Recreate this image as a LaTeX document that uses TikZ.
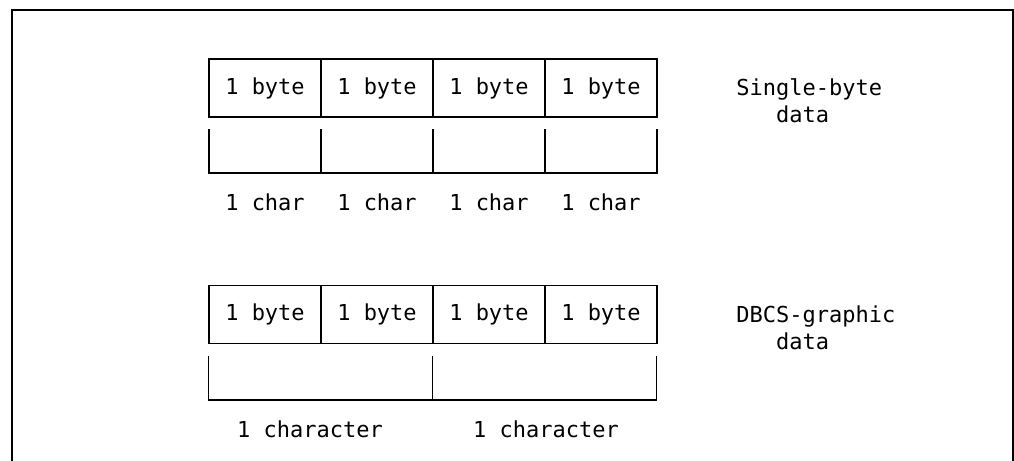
\documentclass[tikz,border=0pt]{standalone}
\usepackage{fontspec}
\usepackage{tikz}
\usetikzlibrary{positioning}
\newfontfamily\figmono{DejaVu Sans Mono}
\tikzset{
  cell/.style={
    draw=black,
    line width=0.7pt,
    minimum width=56pt,
    minimum height=29pt,
    inner sep=0pt,
    outer sep=0pt
  },
  slot/.style={minimum height=22pt, inner sep=0pt, outer sep=0pt},
  wideslot/.style={slot, minimum width=112pt},
  narrowslot/.style={slot, minimum width=56pt},
  bracket/.style={line width=0.7pt, draw=black},
  frameline/.style={line width=0.7pt, draw=black},
  charlabel/.style={anchor=base, inner sep=0pt},
  sidelabel/.style={anchor=base west, align=left, inner sep=0pt}
}

\begin{document}
\begin{tikzpicture}[x=0.5pt,y=-0.5pt,
  every node/.style={font=\figmono\fontsize{11}{13.5}\selectfont}]
  \useasboundingbox (0,0) rectangle (1014,461);

  % open frame
  \draw[frameline] (12,461) -- (12,10) -- (1013,10) -- (1013,461);

  % Single-byte data
  \node[cell] (sb1) at (265,88) {1 byte};
  \node[cell,right=0pt of sb1] (sb2) {1 byte};
  \node[cell,right=0pt of sb2] (sb3) {1 byte};
  \node[cell,right=0pt of sb3] (sb4) {1 byte};

  \node[narrowslot] (sc1) at (265,151) {};
  \node[narrowslot,right=0pt of sc1] (sc2) {};
  \node[narrowslot,right=0pt of sc2] (sc3) {};
  \node[narrowslot,right=0pt of sc3] (sc4) {};
  \draw[bracket] (sc1.north west) |- (sc1.south east) -- (sc1.north east);
  \draw[bracket] (sc2.north west) |- (sc2.south east) -- (sc2.north east);
  \draw[bracket] (sc3.north west) |- (sc3.south east) -- (sc3.north east);
  \draw[bracket] (sc4.north west) |- (sc4.south east) -- (sc4.north east);

  \node[charlabel] (sl1) at (265,210) {1 char};
  \node[charlabel] (sl2) at (377,210) {1 char};
  \node[charlabel] (sl3) at (489,210) {1 char};
  \node[charlabel] (sl4) at (601,210) {1 char};

  \node[sidelabel] (single) at (736,122) {Single-byte\\\phantom{xxx}data};

  % DBCS-graphic data
  \node[cell] (db1) at (265,314.5) {1 byte};
  \node[cell,right=0pt of db1] (db2) {1 byte};
  \node[cell,right=0pt of db2] (db3) {1 byte};
  \node[cell,right=0pt of db3] (db4) {1 byte};

  \node[wideslot] (dc1) at (320.5,378) {};
  \node[wideslot,right=0pt of dc1] (dc2) {};
  \draw[bracket] (dc1.north west) |- (dc1.south east) -- (dc1.north east);
  \draw[bracket] (dc2.north west) |- (dc2.south east) -- (dc2.north east);

  \node[charlabel] (dl1) at (310,437) {1 character};
  \node[charlabel] (dl2) at (546,437) {1 character};

  \node[sidelabel] (dbcs) at (736,349) {DBCS-graphic\\\phantom{xxx}data};
\end{tikzpicture}
\end{document}
